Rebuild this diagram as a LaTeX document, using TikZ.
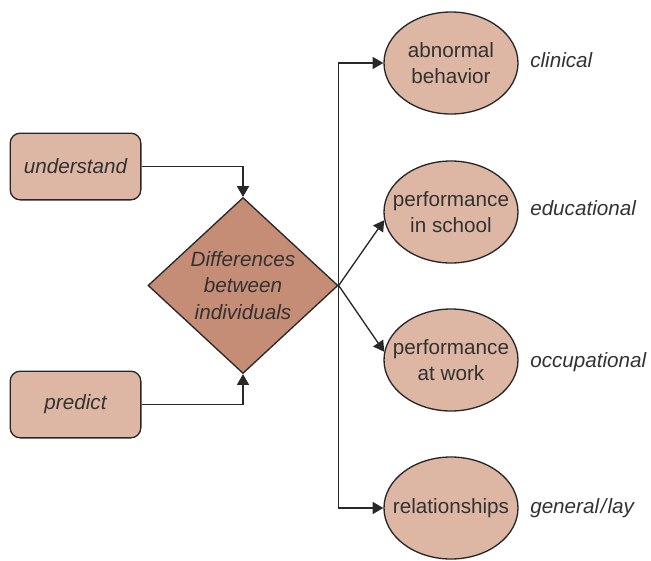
\documentclass[tikz,border=0pt]{standalone}
\usepackage{fontspec}
\setmainfont{Liberation Sans}
\usetikzlibrary{shapes.geometric,arrows.meta}
\definecolor{boxfill}{RGB}{221,182,164}
\definecolor{diafill}{RGB}{197,140,118}
\definecolor{ink}{RGB}{40,40,40}
\definecolor{txt}{RGB}{50,50,50}
\tikzset{
  every node/.style={font=\fontsize{15.5}{20}\selectfont, text=txt},
  line/.style={draw=ink, line width=1pt},
  arr/.style={line, -{Triangle[length=8pt,width=9pt]}},
  roundbox/.style={line, fill=boxfill, rounded corners=7.5pt,
    minimum width=98pt, minimum height=50pt, inner sep=0pt},
  outcome/.style={line, fill=boxfill, ellipse, minimum width=100.5pt,
    minimum height=76.5pt, inner sep=0pt},
  decision/.style={line, fill=diafill, diamond, minimum width=142.5pt,
    minimum height=132pt, inner sep=0pt},
  inner/.style={align=center, inner sep=0pt},
  field/.style={anchor=west, font=\fontsize{15.5}{20}\selectfont\itshape, inner sep=0pt}
}
\begin{document}
\begin{tikzpicture}[x=0.75pt,y=-0.75pt]
\useasboundingbox (0,0) rectangle (651,561);

% purposes on the left
\node[roundbox, font=\fontsize{15.5}{20}\selectfont\itshape] (und) at (75.5,166.5) {understand};
\node[roundbox, font=\fontsize{15.5}{20}\selectfont\itshape] (pre) at (75.5,404.5) {predict};

% central decision shape
\node[decision] (dif) at (243,285.5) {};
\node[inner, font=\fontsize{15.5}{20}\selectfont\itshape] (diftext) at (dif) {Differences\\between\\individuals};

% outcome ellipses
\node[outcome] (e1) at (451,63) {};
\node[outcome] (e2) at (451,212) {};
\node[outcome] (e3) at (451,360) {};
\node[outcome] (e4) at (451,508) {};
\node[inner] (t1) at (e1) {abnormal\\behavior};
\node[inner] (t2) at (e2) {performance\\in school};
\node[inner] (t3) at (e3) {performance\\at work};
\node[inner] (t4) at (e4) {relationships};

% fields of application
\node[field] (f1) at (530,60) {clinical};
\node[field] (f2) at (530,208) {educational};
\node[field] (f3) at (530,362) {occupational};
\node[field] (f4) at (530,508) {general\kern1pt/\kern1pt lay};

% connectors
\draw[arr] (und.east) -| (dif.north);
\draw[arr] (pre.east) -| (dif.south);
\draw[arr] (dif.east) |- (e1.west);
\draw[arr] (dif.east) |- (e4.west);
\draw[arr] (dif.east) -- (e2.187);
\draw[arr] (dif.east) -- (e3.173);
\end{tikzpicture}
\end{document}
